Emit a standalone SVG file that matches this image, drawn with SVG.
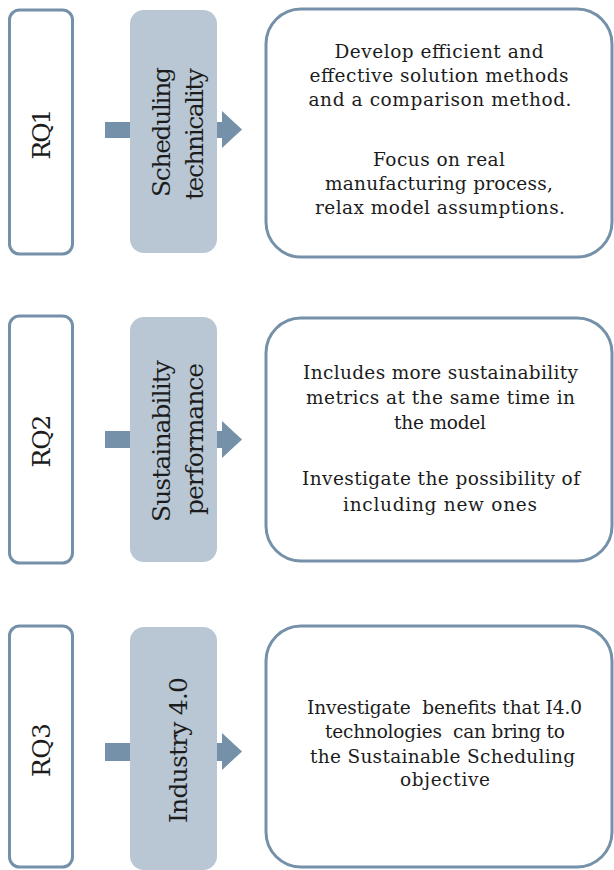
<svg xmlns="http://www.w3.org/2000/svg" width="614" height="870" viewBox="0 0 614 870">
  <style>
    .rq { fill: #ffffff; stroke: #7591a9; stroke-width: 3; }
    .topic { fill: #b8c7d3; }
    .goal { fill: #ffffff; stroke: #7591a9; stroke-width: 3; }
    .arrow { fill: #7591a9; }
    text { font-family: "DejaVu Serif", "Liberation Serif", serif; fill: #1c1c1c; }
    .v { font-size: 25px; text-anchor: middle; }
    .b { font-size: 18.5px; text-anchor: middle; }
  </style>

  <!-- block arrows (drawn first, the topic boxes sit on top of them) -->
  <g id="connectors">
    <polygon class="arrow" points="105,122 222,122 222,111 242,129.5 222,148 222,138 105,138"/>
    <polygon class="arrow" points="105,431 222,431 222,421 242,439.5 222,458 222,448 105,448"/>
    <polygon class="arrow" points="105,743 222,743 222,733 242,751.5 222,770 222,761 105,761"/>
  </g>

  <!-- row 1 -->
  <g id="rq1">
    <rect class="rq" x="9.5" y="10" width="63" height="244" rx="10"/>
    <text class="v" transform="translate(50,134) rotate(-90)" textLength="51">RQ1</text>
  </g>
  <g id="topic1">
    <rect class="topic" x="130" y="10" width="87" height="243" rx="14"/>
    <text class="v" transform="translate(170,132) rotate(-90)" textLength="130">Scheduling</text>
    <text class="v" transform="translate(203,134) rotate(-90)" textLength="132">technicality</text>
  </g>
  <g id="goal1">
    <rect class="goal" x="266" y="9" width="346" height="248" rx="35"/>
    <text class="b" x="439" y="58" textLength="209">Develop efficient and</text>
    <text class="b" x="439" y="82" textLength="259">effective solution methods</text>
    <text class="b" x="440" y="106" textLength="263">and a comparison method.</text>
    <text class="b" x="439" y="166" textLength="132">Focus on real</text>
    <text class="b" x="439" y="190" textLength="228">manufacturing process,</text>
    <text class="b" x="440" y="214" textLength="250">relax model assumptions.</text>
  </g>

  <!-- row 2 -->
  <g id="rq2">
    <rect class="rq" x="9.5" y="316" width="63" height="247" rx="10"/>
    <text class="v" transform="translate(50,441) rotate(-90)" textLength="53">RQ2</text>
  </g>
  <g id="topic2">
    <rect class="topic" x="130" y="317" width="87" height="245" rx="14"/>
    <text class="v" transform="translate(170,441) rotate(-90)" textLength="162">Sustainability</text>
    <text class="v" transform="translate(203,439) rotate(-90)" textLength="152">performance</text>
  </g>
  <g id="goal2">
    <rect class="goal" x="266" y="318" width="346" height="243" rx="35"/>
    <text class="b" x="440.5" y="379" textLength="275">Includes more sustainability</text>
    <text class="b" x="440.5" y="404" textLength="269">metrics at the same time in</text>
    <text class="b" x="440" y="429" textLength="92">the model</text>
    <text class="b" x="441" y="485" textLength="278">Investigate the possibility of</text>
    <text class="b" x="440" y="511" textLength="194">including new ones</text>
  </g>

  <!-- row 3 -->
  <g id="rq3">
    <rect class="rq" x="9.5" y="626" width="63" height="241" rx="10"/>
    <text class="v" transform="translate(50,750) rotate(-90)" textLength="54">RQ3</text>
  </g>
  <g id="topic3">
    <rect class="topic" x="130" y="627" width="87" height="243" rx="14"/>
    <text class="v" transform="translate(187,750) rotate(-90)" textLength="146">Industry 4.0</text>
  </g>
  <g id="goal3">
    <rect class="goal" x="266" y="626" width="346" height="241" rx="35"/>
    <text class="b" x="444.5" y="714" textLength="275" xml:space="preserve">Investigate  benefits that I4.0</text>
    <text class="b" x="445" y="738" textLength="240" xml:space="preserve">technologies  can bring to</text>
    <text class="b" x="442.5" y="763" textLength="265">the Sustainable Scheduling</text>
    <text class="b" x="445" y="786" textLength="90">objective</text>
  </g>
</svg>
